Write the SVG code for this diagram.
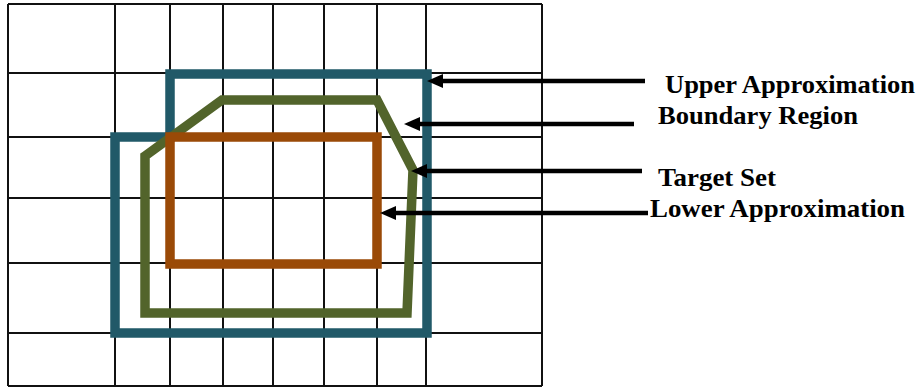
<svg xmlns="http://www.w3.org/2000/svg" width="918" height="387" viewBox="0 0 918 387">
  <style>
    .grid line { stroke: #111; stroke-width: 2; }
    .region { fill: none; stroke-width: 9.5; stroke-linejoin: miter; }
    .arrow { stroke: #000; stroke-width: 4.5; fill: none; marker-end: url(#head); }
    .label { font-family: "Liberation Serif", "Times New Roman", serif; font-weight: bold; font-size: 25px; fill: #000; }
  </style>
  <defs>
    <marker id="head" viewBox="0 0 16 14" refX="2" refY="7" markerWidth="16" markerHeight="14" markerUnits="userSpaceOnUse" orient="auto">
      <path d="M0,0 L16,7 L0,14 Z" fill="#000"/>
    </marker>
  </defs>

  <rect width="918" height="387" fill="#fff"/>

  <!-- universe grid -->
  <g id="grid" class="grid">
    <line x1="8" y1="4" x2="8" y2="386"/>
    <line x1="115" y1="4" x2="115" y2="386"/>
    <line x1="170" y1="4" x2="170" y2="386"/>
    <line x1="223" y1="4" x2="223" y2="386"/>
    <line x1="273" y1="4" x2="273" y2="386"/>
    <line x1="324" y1="4" x2="324" y2="386"/>
    <line x1="377" y1="4" x2="377" y2="386"/>
    <line x1="426" y1="4" x2="426" y2="386"/>
    <line x1="542" y1="4" x2="542" y2="386"/>
    <line x1="8" y1="4" x2="542" y2="4"/>
    <line x1="8" y1="73" x2="542" y2="73"/>
    <line x1="8" y1="137" x2="542" y2="137"/>
    <line x1="8" y1="198" x2="542" y2="198"/>
    <line x1="8" y1="263" x2="542" y2="263"/>
    <line x1="8" y1="333" x2="542" y2="333"/>
    <line x1="8" y1="386" x2="542" y2="386"/>
  </g>

  <!-- upper approximation -->
  <g id="upper-approximation">
    <path class="region" stroke="#215968" d="M170,74 H427 V333 H115 V137 H170 Z"/>
  </g>

  <!-- boundary region outline -->
  <g id="boundary-region">
    <path class="region" stroke="#52642b" stroke-linejoin="round" d="M145,156 L222,100 H377 L413,170 L407,313 H145 Z"/>
  </g>

  <!-- lower approximation -->
  <g id="lower-approximation">
    <path class="region" stroke="#9a4a07" d="M170,137 H377 V264 H170 Z"/>
  </g>

  <!-- pointers from labels -->
  <g id="connectors">
    <line class="arrow" x1="645" y1="81" x2="441" y2="81"/>
    <line class="arrow" x1="634" y1="124" x2="418" y2="124"/>
    <line class="arrow" x1="642" y1="171" x2="425" y2="171"/>
    <line class="arrow" x1="648" y1="213" x2="394" y2="213"/>
  </g>

  <g id="labels">
    <text class="label" x="665" y="93" textLength="250" lengthAdjust="spacingAndGlyphs">Upper Approximation</text>
    <text class="label" x="658" y="124" textLength="200" lengthAdjust="spacingAndGlyphs">Boundary Region</text>
    <text class="label" x="658" y="186" textLength="118" lengthAdjust="spacingAndGlyphs">Target Set</text>
    <text class="label" x="650" y="217" textLength="255" lengthAdjust="spacingAndGlyphs">Lower Approximation</text>
  </g>
</svg>
